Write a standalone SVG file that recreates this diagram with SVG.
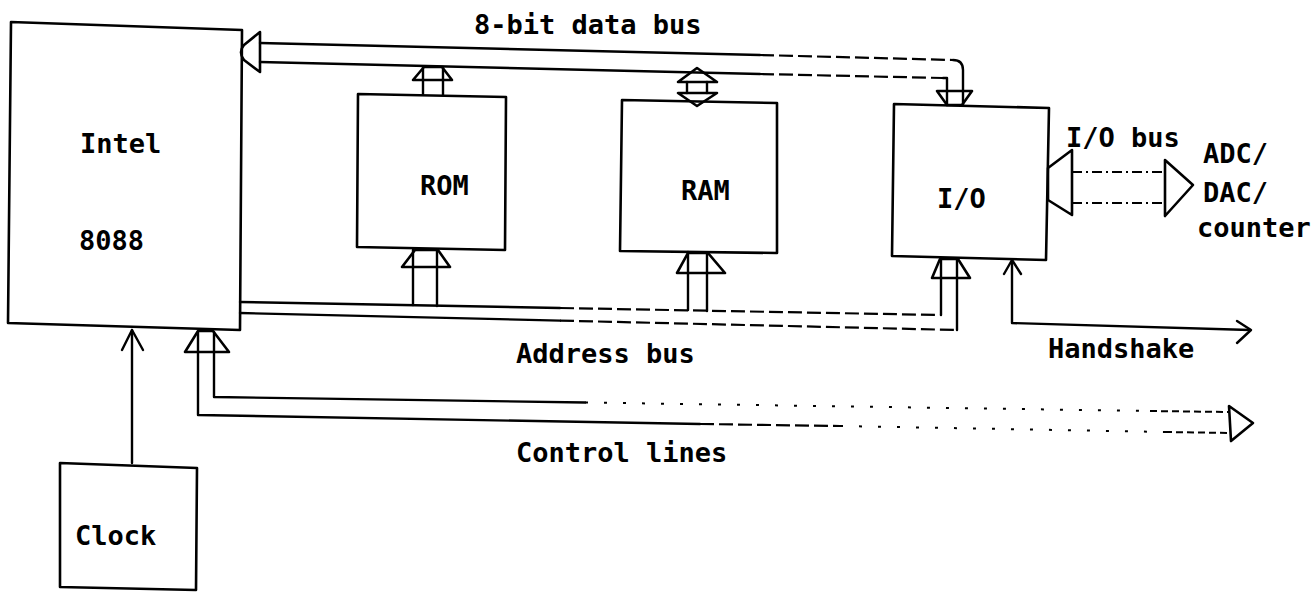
<svg xmlns="http://www.w3.org/2000/svg" width="1316" height="592" viewBox="0 0 1316 592">
<style>
.box{fill:none;stroke:#000;stroke-width:2.6;stroke-linejoin:round}
.ln{fill:none;stroke:#000;stroke-width:2.4;stroke-linecap:round;stroke-linejoin:round}
.dl{fill:none;stroke:#000;stroke-width:2.2;stroke-dasharray:14 5}
.dt{fill:none;stroke:#000;stroke-width:2;stroke-dasharray:3 16}
.dd{fill:none;stroke:#000;stroke-width:2;stroke-dasharray:7 4}
.dda{fill:none;stroke:#000;stroke-width:2;stroke-dasharray:10 4 2 4}
.hd{fill:none;stroke:#000;stroke-width:2.6;stroke-linejoin:round}
text{font-family:"DejaVu Sans Mono","Liberation Mono",monospace;font-weight:bold;font-size:27px;fill:#000}
</style>
<rect width="1316" height="592" fill="#fff"/>
<g id="connectors">
  <!-- 8-bit data bus -->
  <path class="hd" d="M260,32 L244,45 Q238,52 244,60 L260,72 Z"/>
  <path class="ln" d="M260,43 L760,55"/>
  <path class="dl" d="M760,55 L953,60"/>
  <path class="ln" d="M953,60 Q963,60 963,70 L963,105"/>
  <path class="ln" d="M260,62 L760,74"/>
  <path class="dl" d="M760,74 L943,78"/>
  <path class="ln" d="M943,78 L947,78 L947,105"/>
  <polygon class="hd" points="937,91 972,91 962,105 947,105"/>
  <!-- ROM to data bus -->
  <path class="ln" d="M423,67 V94 M443,67 V95"/>
  <polygon class="hd" points="413,80 424,67 442,67 452,80"/>
  <!-- RAM to data bus -->
  <path class="ln" d="M687,82 V93 M707,82 V93"/>
  <polygon class="hd" points="678,82 697,68 717,82"/>
  <polygon class="hd" points="678,93 717,93 697,106"/>
  <!-- Address bus -->
  <path class="ln" d="M240,302 L560,308"/>
  <path class="dl" d="M560,308 L941,315"/>
  <path class="ln" d="M941,315 V260"/>
  <path class="ln" d="M240,313 L560,320.6"/>
  <path class="dl" d="M560,320.6 L957,330"/>
  <path class="ln" d="M957,330 V260"/>
  <polygon class="hd" points="932,278 940,259 958,259 970,278"/>
  <path class="ln" d="M413,250 V305 M437,250 V306"/>
  <polygon class="hd" points="402,267 415,250 438,250 450,267"/>
  <path class="ln" d="M688,252 V310 M707,253 V311"/>
  <polygon class="hd" points="677,273 688,253 708,253 725,273"/>
  <!-- Control lines -->
  <path class="ln" d="M214,332 V397 L585,402.5"/>
  <path class="dt" d="M585,402.5 L1150,411"/>
  <path class="dd" d="M1150,411 L1230,412"/>
  <path class="ln" d="M198,332 V415 L700,424"/>
  <path class="dl" d="M700,424 L840,426"/>
  <path class="dt" d="M840,426 L1165,432"/>
  <path class="dd" d="M1165,432 L1230,433"/>
  <polygon class="hd" points="185,352 198,331 213,331 229,352"/>
  <polygon class="hd" points="1229,406 1253,423 1231,441"/>
  <!-- Clock to Intel -->
  <path class="ln" d="M132,463 V330"/>
  <path class="ln" d="M122,350 L132,330 L143,350"/>
  <!-- Handshake -->
  <path class="ln" d="M1012,260 V323 L1250,330"/>
  <path class="ln" d="M1004,274 L1012,260 L1021,274"/>
  <path class="ln" d="M1237,321 L1251,330 L1237,343"/>
  <!-- I/O bus -->
  <polygon class="hd" points="1072,150 1048,168 1048,200 1072,215"/>
  <path class="dda" d="M1072,172 H1165 M1072,203 H1165"/>
  <polygon class="hd" points="1165,160 1193,185 1165,216"/>
</g>
<g id="labels">
  <text x="474" y="34">8-bit data bus</text>
  <text x="1066" y="147">I/O bus</text>
  <text x="1203" y="163">ADC/</text>
  <text x="1203" y="202">DAC/</text>
  <text x="1197" y="237">counter</text>
  <text x="516" y="363">Address bus</text>
  <text x="1048" y="358">Handshake</text>
  <text x="516" y="462">Control lines</text>
</g>
<g id="intel">
  <polygon class="box" points="11,22 242,30 240,330 8,323"/>
  <text x="80" y="153">Intel</text>
  <text x="79" y="250">8088</text>
</g>
<g id="rom">
  <polygon class="box" points="358,94 506,97 505,250 357,247"/>
  <text x="420" y="195">ROM</text>
</g>
<g id="ram">
  <polygon class="box" points="622,100 777,103 777,253 620,251"/>
  <text x="681" y="200">RAM</text>
</g>
<g id="io">
  <polygon class="box" points="894,104 1049,108 1046,260 892,256"/>
  <text x="937" y="208">I/O</text>
</g>
<g id="clock">
  <polygon class="box" points="60,463 197,468 196,590 60,587"/>
  <text x="75" y="545">Clock</text>
</g>
</svg>
